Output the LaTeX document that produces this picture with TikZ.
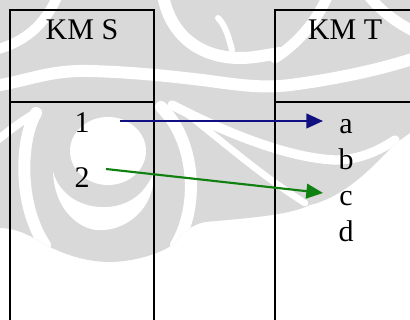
\documentclass[tikz,border=0pt]{standalone}
\usepackage{fontspec}
\setmainfont{Liberation Serif}[Ligatures=TeX]
\usetikzlibrary{arrows.meta}
\definecolor{wmgray}{RGB}{217,217,217}
\definecolor{linkblue}{RGB}{16,16,128}
\definecolor{linkgreen}{RGB}{16,128,16}

% outline of the grey watermark
\def\wmshape{(0,0) -- (410,0) -- (410,133)
  .. controls (400,140) and (392,146) .. (387,152)
  .. controls (365,175) and (340,198) .. (310,205)
  .. controls (290,215) and (250,218) .. (205,222)
  .. controls (190,225) and (180,235) .. (175,243)
  .. controls (160,255) and (130,262) .. (110,262)
  .. controls (80,262) and (55,250) .. (42,243)
  .. controls (30,235) and (15,228) .. (0,228) -- cycle}

\begin{document}
\begin{tikzpicture}[x=0.75pt,y=-0.75pt,
  frame/.style={line width=1.5pt, black},
  lbl/.style={font=\rmfamily\fontsize{22.5}{27}\selectfont, inner sep=0pt, anchor=base},
  link/.style={line width=1.6pt, -{Triangle[length=12.5pt,width=11pt]}},
  band/.style={white, line width=#1, line cap=round},
]
\useasboundingbox (0,0) rectangle (410,320);

% watermark
\begin{scope}
  \fill[wmgray] \wmshape;
  \clip \wmshape;
  \draw[band=9pt] (-5,86) .. controls (30,80) and (50,70) .. (90,71)
    .. controls (130,72) and (170,76) .. (210,81)
    .. controls (245,86) and (265,88) .. (290,85)
    .. controls (330,80) and (380,70) .. (415,58);
  \draw[band=7.5pt] (58,-5) .. controls (45,25) and (25,42) .. (-5,50);
  \draw[band=9pt] (163,-5) .. controls (170,35) and (200,58) .. (240,58)
    .. controls (255,58) and (265,55) .. (280,53);
  \draw[band=4.5pt] (218,18) .. controls (225,25) and (228,35) .. (232,50);
  \draw[band=8pt] (328,-5) .. controls (315,25) and (295,45) .. (275,58);
  \draw[band=8pt] (368,-5) .. controls (380,10) and (395,22) .. (415,32);
  % centre disc and crescent
  \fill[white] (108,151) ellipse (38 and 34);
  \fill[white] (53,172) .. controls (55,215) and (85,232) .. (102,230)
    .. controls (125,230) and (155,210) .. (154,172)
    .. controls (142,202) and (118,208) .. (100,207)
    .. controls (80,206) and (60,195) .. (53,172) -- cycle;
  % outer arcs and rays
  \draw[band=6pt] (-5,142) .. controls (10,130) and (25,118) .. (38,112);
  \draw[band=9pt] (36,113) .. controls (20,140) and (18,205) .. (45,245);
  \draw[band=9pt] (161,107) .. controls (195,140) and (200,205) .. (176,245);
  \draw[band=7pt] (172,105) .. controls (230,135) and (290,158) .. (335,160)
    .. controls (360,160) and (380,150) .. (395,140);
  \draw[band=5pt] (182,110) .. controls (215,135) and (260,175) .. (305,203);
\end{scope}

% table frames
\draw[frame] (10,322) -- (10,10) -- (154,10) -- (154,322);
\draw[frame] (10,102) -- (154,102);
\draw[frame] (275,322) -- (275,10) -- (412,10);
\draw[frame] (275,102) -- (412,102);

% headings
\node[lbl] (hs) at (82,40) {KM S};
\node[lbl] (ht) at (345,40) {KM T};

% source items
\node[lbl] (s1) at (82,133) {1};
\node[lbl] (s2) at (82,188) {2};

% target items
\node[lbl] (ta) at (346,134) {a};
\node[lbl] (tb) at (346,170) {b};
\node[lbl] (tc) at (346,206) {c};
\node[lbl] (td) at (346,242) {d};

% mapping arrows
\coordinate (p1) at (120,121);
\coordinate (qa) at (323,121);
\coordinate (p2) at (106,169);
\coordinate (qc) at (323,193);
\draw[link, linkblue] (p1) -- (qa);
\draw[link, linkgreen] (p2) -- (qc);
\end{tikzpicture}
\end{document}
